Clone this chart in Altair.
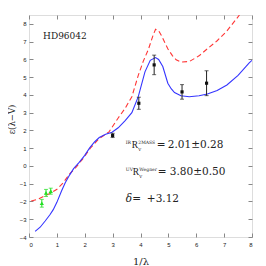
import altair as alt
import pandas as pd

# ---------------- data ----------------
blue_x = [0.22, 0.4, 0.58, 0.75, 0.87, 1.0, 1.17, 1.3, 1.46, 1.6, 1.8, 2.0, 2.17, 2.35, 2.52, 2.75, 2.98,
          3.2, 3.45, 3.69, 3.92, 4.16, 4.35, 4.54, 4.65, 4.8, 4.98, 5.1, 5.22, 5.45, 5.75, 6.1, 6.4,
          6.75, 7.1, 7.5, 7.9, 8.0]
blue_y = [-3.68, -3.45, -3.1, -2.75, -2.46, -2.05, -1.4, -0.95, -0.5, -0.15, 0.2, 0.6, 1.0, 1.35, 1.6,
          1.78, 1.9, 2.15, 2.55, 3.0, 3.9, 5.3, 5.95, 6.1, 6.0, 5.6, 4.66, 4.35, 4.13, 3.95, 3.9, 3.95,
          4.05, 4.25, 4.56, 5.1, 5.8, 5.95]

red_x = [0.08, 0.3, 0.52, 0.75, 0.99, 1.2, 1.46, 1.7, 1.93, 2.2, 2.5, 2.87, 3.2, 3.45, 3.69, 3.92, 4.1,
         4.28, 4.45, 4.54, 4.65, 4.75, 4.98, 5.15, 5.28, 5.45, 5.75, 6.1, 6.4, 6.75, 7.1, 7.55]
red_y = [-1.97, -1.88, -1.72, -1.55, -1.33, -1.0, -0.45, -0.05, 0.4, 1.0, 1.52, 1.92, 2.7, 3.25, 3.9, 5.1,
         5.9, 6.55, 7.35, 7.7, 7.62, 7.35, 6.6, 6.2, 5.98, 5.85, 5.88, 6.2, 6.6, 7.05, 7.6, 8.5]

uv_x = [3.0, 3.94, 4.49, 5.49, 6.37]
uv_y = [1.72, 3.53, 5.69, 4.17, 4.66]
uv_err = [0.12, 0.34, 0.55, 0.41, 0.7]

ir_x = [0.46, 0.61, 0.78]
ir_y = [-2.1, -1.52, -1.42]
ir_err = [0.22, 0.2, 0.17]

x_ticks = [0, 1, 2, 3, 4, 5, 6, 7, 8]
y_ticks = [-4, -3, -2, -1, 0, 1, 2, 3, 4, 5, 6, 7, 8]

XD = [0, 8]
YD = [-4, 8.5]

blue = pd.DataFrame({"x": blue_x, "y": blue_y})
red = pd.DataFrame({"x": red_x, "y": red_y})
uv = pd.DataFrame({"x": uv_x, "y": uv_y, "lo": [a - b for a, b in zip(uv_y, uv_err)],
                   "hi": [a + b for a, b in zip(uv_y, uv_err)]})
ir = pd.DataFrame({"x": ir_x, "y": ir_y, "lo": [a - b for a, b in zip(ir_y, ir_err)],
                   "hi": [a + b for a, b in zip(ir_y, ir_err)]})

xs = alt.Scale(domain=XD, nice=False, zero=False)
ys = alt.Scale(domain=YD, nice=False, zero=False)


def X(f, axis=None, title=None):
    return alt.X(f, type="quantitative", scale=xs, axis=axis, title=title)


def Y(f, axis=None, title=None):
    return alt.Y(f, type="quantitative", scale=ys, axis=axis, title=title)


# labeled axes (bottom / left)
lab_x = alt.Axis(orient="bottom", values=x_ticks, domain=False, ticks=False, grid=False,
                 labelFontSize=6, labelFont="Liberation Sans", labelColor="#222", labelPadding=4,
                 titleFont="DejaVu Serif", titleFontSize=10, titleFontWeight="normal",
                 titleColor="#222", titlePadding=9)
lab_y = alt.Axis(orient="left", values=y_ticks, domain=False, ticks=False, grid=False,
                 labelFontSize=6, labelFont="Liberation Sans", labelColor="#222", labelPadding=3,
                 titleFont="DejaVu Serif", titleFontSize=8.5, titleFontWeight="normal",
                 titleColor="#222", titleX=-13, titleY=104)

blue_line = alt.Chart(blue).mark_line(color="#3535ff", strokeWidth=1.1, clip=True).encode(
    x=X("x", lab_x, "1/λ"), y=Y("y", lab_y, "ε(λ−V)"))


def tick_axis(orient, values):
    return alt.Axis(orient=orient, values=values, offset=-4, domain=False, ticks=True, tickSize=4,
                    tickColor="#888", tickWidth=1, labels=False, grid=False)


ticks_bl = alt.Chart(blue).mark_point(opacity=0).encode(
    x=X("x", tick_axis("bottom", x_ticks)), y=Y("y", tick_axis("left", y_ticks)))
ticks_tr = alt.Chart(blue).mark_point(opacity=0).encode(
    x=X("x", tick_axis("top", x_ticks)), y=Y("y", tick_axis("right", y_ticks)))

red_line = alt.Chart(red).mark_line(color="#ff3535", strokeWidth=1.1, strokeDash=[5, 3], clip=True).encode(
    x=X("x"), y=Y("y"))

uv_bars = alt.Chart(uv).mark_rule(color="#222", strokeWidth=1).encode(x=X("x"), y=Y("lo"), y2="hi")
uv_cap_lo = alt.Chart(uv).mark_tick(color="#222", orient="horizontal", size=4, thickness=1).encode(x=X("x"), y=Y("lo"))
uv_cap_hi = alt.Chart(uv).mark_tick(color="#222", orient="horizontal", size=4, thickness=1).encode(x=X("x"), y=Y("hi"))
uv_pts = alt.Chart(uv).mark_point(shape="square", filled=True, color="#111", size=10, opacity=1).encode(
    x=X("x"), y=Y("y"))

GREEN = "#22e022"
ir_bars = alt.Chart(ir).mark_rule(color=GREEN, strokeWidth=1).encode(x=X("x"), y=Y("lo"), y2="hi")
ir_cap_lo = alt.Chart(ir).mark_tick(color=GREEN, orient="horizontal", size=4, thickness=1).encode(x=X("x"), y=Y("lo"))
ir_cap_hi = alt.Chart(ir).mark_tick(color=GREEN, orient="horizontal", size=4, thickness=1).encode(x=X("x"), y=Y("hi"))
ir_pts = alt.Chart(ir).mark_point(shape="triangle-up", filled=True, color=GREEN, size=18, opacity=1).encode(
    x=X("x"), y=Y("y"))


def txt(s, x, y, dx=0, dy=0, size=10.5, font="DejaVu Serif", style="normal"):
    d = pd.DataFrame({"x": [x], "y": [y], "t": [s]})
    return alt.Chart(d).mark_text(align="left", baseline="alphabetic", dx=dx, dy=dy, fontSize=size,
                                  font=font, fontStyle=style, color="#222").encode(
        x=X("x"), y=Y("y"), text="t:N")


AX = 3.474
texts = [
    txt("HD96042", 0.505, 7.15, size=9),
    # IR line
    txt("IR", AX, 1.01, 0, -4, 4.5),
    txt("R", AX, 1.01, 6, 0, 9.5, font="Liberation Serif"),
    txt("V", AX, 1.01, 12.5, 2.5, 4),
    txt("2MASS", AX, 1.01, 12.5, -4.5, 4.5),
    txt("=", AX, 1.01, 31, 0),
    txt("2.01±0.28", AX, 1.01, 42, 0),
    # UV line
    txt("UV", AX, -0.51, 0, -4, 4.5),
    txt("R", AX, -0.51, 7, 0, 9.5, font="Liberation Serif"),
    txt("V", AX, -0.51, 13.5, 2.5, 4),
    txt("Wegner", AX, -0.51, 13.5, -4.5, 4.5),
    txt("=", AX, -0.51, 32, 0),
    txt("3.80±0.50", AX, -0.51, 44, 0),
    # delta line
    txt("δ=", AX, -2.03, 0, 0, 10.5, style="italic"),
    txt("+3.12", AX, -2.03, 21, 0),
]

chart = alt.layer(
    ticks_bl, ticks_tr, red_line, blue_line,
    uv_bars, uv_cap_lo, uv_cap_hi, uv_pts,
    ir_bars, ir_cap_lo, ir_cap_hi, ir_pts,
    *texts,
).resolve_axis(x="independent", y="independent").properties(
    width=223, height=222, autosize="none",
    padding={"left": 21, "top": 7, "right": 6, "bottom": 29},
).configure_view(stroke="#888", strokeWidth=1).configure(background="white")

chart.save("out.html", embed_options={"renderer": "svg", "actions": False})
